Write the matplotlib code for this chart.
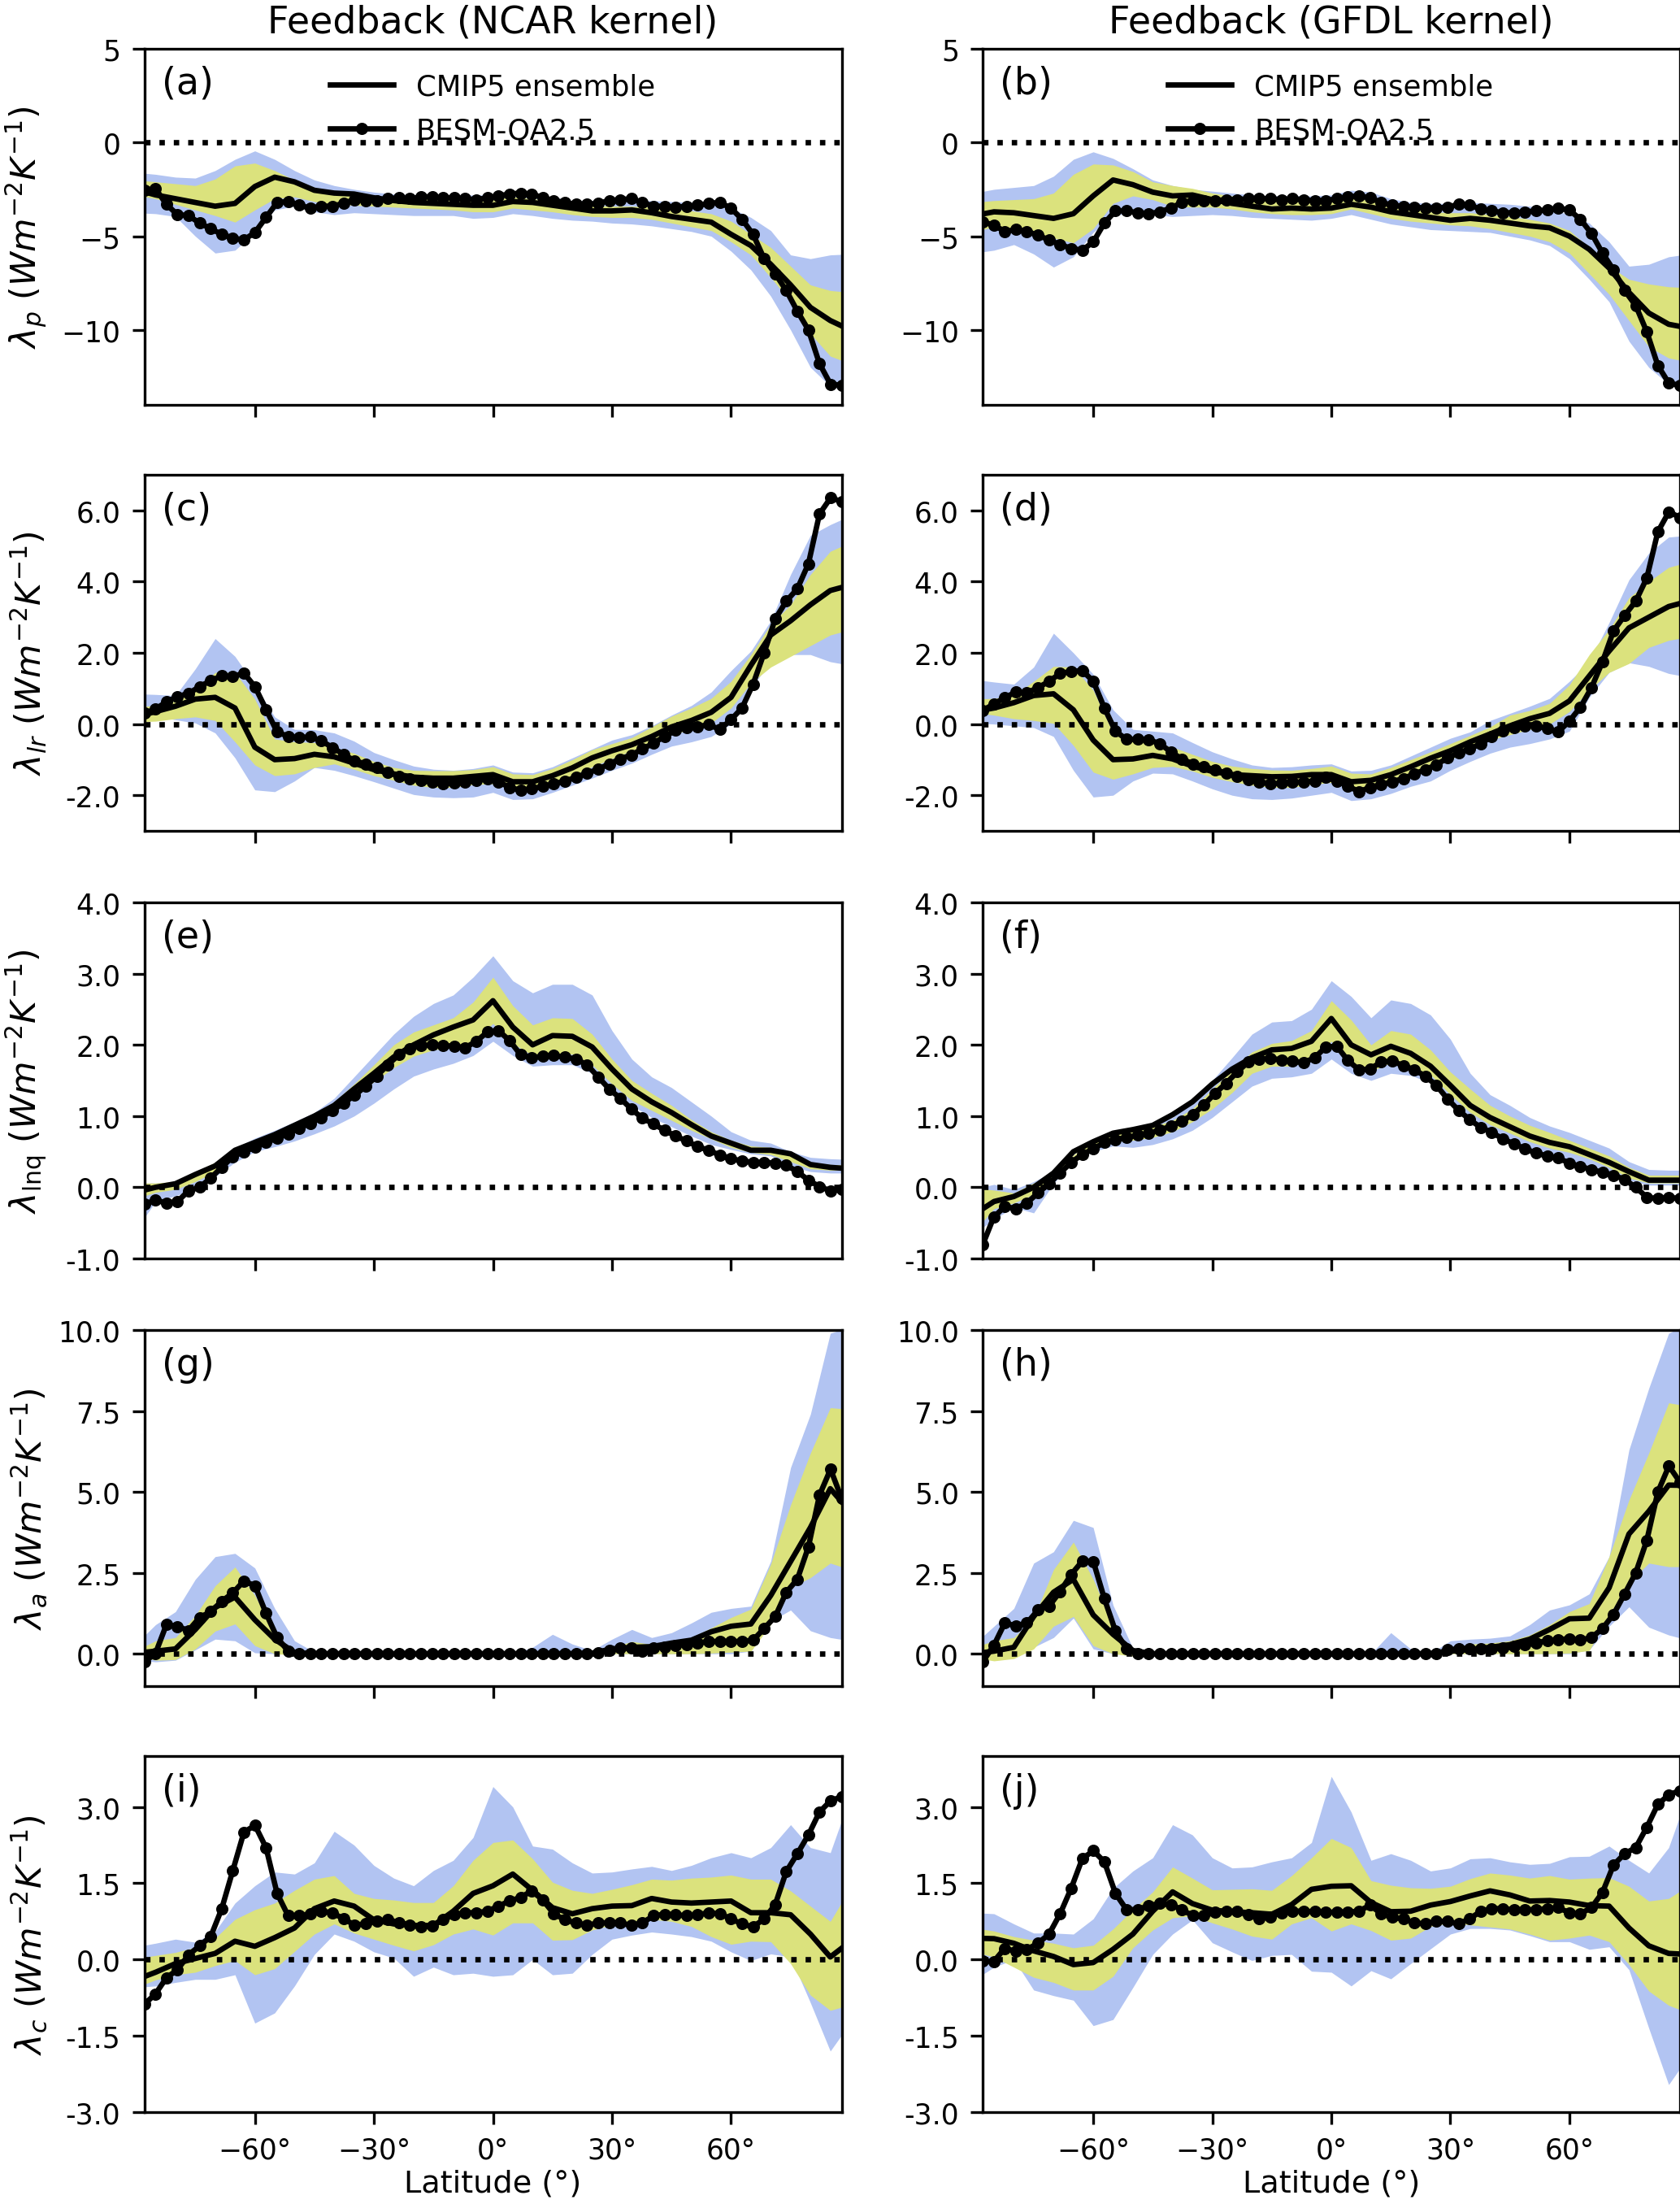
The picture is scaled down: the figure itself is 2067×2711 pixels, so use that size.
import numpy as np
import matplotlib
matplotlib.use('Agg')
import matplotlib.pyplot as plt
from matplotlib.ticker import FormatStrFormatter

# ---------------- latitude grids ----------------
lat_cmip = np.arange(-90, 91, 5)                 # CMIP5 ensemble grid (37)
lat_besm = np.linspace(-87.86, 87.86, 64)        # BESM-OA2.5 grid (64)

# ---------------- (a) Planck, NCAR ----------------
a_mean = [-2.5, -2.8, -3.0, -3.2, -3.4, -3.25, -2.35, -1.85, -2.1,
          -2.55, -2.7, -2.75, -2.95, -3.1, -3.2, -3.25, -3.3, -3.35,
          -3.35,
          -3.15, -3.2, -3.35, -3.5, -3.65, -3.65, -3.6, -3.75, -3.95,
          -4.1, -4.25, -4.9, -5.5, -6.5, -7.6, -8.8, -9.5, -10.0]
a_blue_hi = [-1.6, -1.7, -1.85, -1.9, -1.5, -0.9, -0.45, -0.9, -1.5,
             -2.0, -2.3, -2.5, -2.65, -2.75, -2.8, -2.8, -2.8, -2.8,
             -2.8,
             -2.65, -2.75, -2.9, -3.1, -3.1, -3.1, -3.1, -3.1, -3.15,
             -3.2, -3.3, -3.5, -4.0, -4.7, -6.0, -6.2, -6.0, -5.95]
a_blue_lo = [-3.75, -3.8, -3.95, -5.0, -5.9, -5.75, -4.8, -3.6, -3.4,
             -3.7, -3.85, -3.75, -3.8, -3.85, -3.9, -3.9, -3.9, -4.05,
             -4.0,
             -3.8, -3.9, -4.05, -4.15, -4.2, -4.3, -4.35, -4.45, -4.6,
             -4.75, -5.0, -5.8, -6.8, -8.2, -10.0, -12.0, -13.0, -13.3]
a_yel_hi = [-2.0, -2.1, -2.2, -2.3, -1.95, -1.25, -1.1, -1.5, -2.0,
            -2.4, -2.6, -2.7, -2.85, -2.95, -3.0, -3.0, -3.0, -3.05,
            -3.05,
            -2.9, -3.0, -3.1, -3.3, -3.35, -3.4, -3.4, -3.45, -3.55,
            -3.65, -3.8, -4.2, -4.9, -5.6, -6.6, -7.6, -7.9, -8.0]
a_yel_lo = [-2.8, -3.0, -3.3, -3.6, -3.9, -4.25, -3.6, -3.0, -2.9,
            -3.15, -3.3, -3.35, -3.4, -3.45, -3.5, -3.55, -3.6, -3.7,
            -3.7,
            -3.5, -3.6, -3.7, -3.85, -3.95, -4.0, -4.0, -4.1, -4.3,
            -4.5, -4.7, -5.3, -6.0, -7.2, -8.5, -10.2, -11.4, -11.8]
a_besm = [-2.55, -2.45, -3.3, -3.85, -3.9, -4.3, -4.6, -4.9,
          -5.1, -5.2, -4.8, -4.0, -3.2, -3.15, -3.35, -3.5,
          -3.4, -3.4, -3.25, -3.05, -3.1, -3.1, -3.0, -2.95,
          -3.0, -2.9, -2.9, -2.95, -2.95, -3.0, -3.05, -2.95,
          -2.85, -2.75, -2.7, -2.75, -2.95, -3.1, -3.2, -3.3,
          -3.3, -3.25, -3.1, -3.05, -3.0, -3.2, -3.4, -3.4,
          -3.45, -3.4, -3.35, -3.25, -3.2, -3.5, -4.1, -4.9,
          -6.2, -7.0, -7.9, -9.0, -10.0, -11.8, -12.9, -12.95]

# ---------------- (b) Planck, GFDL ----------------
b_mean = [-3.9, -3.7, -3.75, -3.9, -4.05, -3.8, -2.85, -2.0, -2.25,
          -2.65, -2.85, -2.8, -3.05, -3.25, -3.4, -3.55, -3.5, -3.55,
          -3.5,
          -3.3, -3.45, -3.7, -3.85, -4.0, -4.15, -4.05, -4.15, -4.3,
          -4.45, -4.55, -5.0, -5.7, -6.7, -8.0, -9.1, -9.7, -9.9]
b_blue_hi = [-2.7, -2.5, -2.4, -2.3, -1.8, -0.9, -0.5, -0.85, -1.4,
             -2.0, -2.3, -2.5, -2.6, -2.7, -2.8, -2.85, -2.85, -2.85,
             -2.8,
             -2.55, -2.65, -3.0, -3.2, -3.25, -3.25, -3.2, -3.25, -3.3,
             -3.4, -3.55, -3.85, -4.3, -5.3, -6.6, -6.5, -6.1, -5.95]
b_blue_lo = [-5.9, -5.75, -5.45, -5.95, -6.65, -6.1, -4.8, -3.9, -3.75,
             -3.85, -3.95, -3.9, -3.85, -3.9, -4.0, -4.05, -4.1, -4.15,
             -4.05,
             -3.85, -4.1, -4.35, -4.5, -4.65, -4.7, -4.75, -4.8, -5.0,
             -5.2, -5.5, -6.2, -7.3, -8.5, -10.6, -12.0, -12.9, -13.3]
b_yel_hi = [-3.2, -3.1, -3.05, -3.0, -2.7, -1.7, -1.15, -1.2, -1.55,
            -2.1, -2.3, -2.45, -2.7, -2.85, -3.0, -3.1, -3.15, -3.2,
            -3.15,
            -2.95, -3.1, -3.4, -3.55, -3.7, -3.75, -3.75, -3.85, -3.95,
            -4.1, -4.3, -4.7, -5.6, -6.6, -7.3, -7.55, -7.7, -7.75]
b_yel_lo = [-4.75, -4.5, -4.6, -4.8, -5.1, -5.35, -4.6, -3.25, -2.85,
            -3.05, -3.4, -3.45, -3.45, -3.55, -3.7, -3.8, -3.85, -3.85,
            -3.8,
            -3.55, -3.8, -4.05, -4.2, -4.3, -4.4, -4.45, -4.6, -4.8,
            -5.0, -5.3, -5.9, -7.0, -8.1, -9.5, -10.9, -11.5, -11.7]
b_besm = [-4.25, -4.4, -4.75, -4.65, -4.75, -4.95, -5.2, -5.45,
          -5.65, -5.75, -5.3, -4.3, -3.65, -3.65, -3.75, -3.8,
          -3.7, -3.5, -3.2, -3.1, -3.1, -3.1, -3.05, -3.05,
          -3.0, -3.0, -3.0, -3.05, -3.0, -3.05, -3.1, -3.1,
          -3.0, -2.9, -2.85, -2.95, -3.2, -3.35, -3.4, -3.45,
          -3.5, -3.5, -3.45, -3.3, -3.35, -3.55, -3.65, -3.75,
          -3.75, -3.7, -3.65, -3.6, -3.5, -3.6, -4.1, -4.85,
          -5.9, -6.8, -7.9, -8.7, -10.1, -11.9, -12.85, -12.95]

# ---------------- (c) lapse rate, NCAR ----------------
c_mean = [0.2, 0.35, 0.5, 0.7, 0.75, 0.45, -0.65, -1.0, -0.97,
          -0.85, -0.92, -1.1, -1.28, -1.4, -1.49, -1.52, -1.52, -1.47,
          -1.42,
          -1.62, -1.62, -1.45, -1.23, -0.95, -0.75, -0.58, -0.35, -0.08,
          0.1, 0.33, 0.75, 1.65, 2.5, 2.9, 3.35, 3.75, 3.9]
c_blue_hi = [0.85, 0.83, 0.8, 1.55, 2.4, 1.9, 1.1, 0.2, -0.15,
             -0.16, -0.25, -0.48, -0.8, -1.0, -1.18, -1.27, -1.3, -1.25,
             -1.15,
             -1.35, -1.37, -1.2, -0.95, -0.7, -0.45, -0.3, -0.05, 0.25,
             0.52, 0.9, 1.5, 2.05, 2.9, 4.2, 5.3, 5.6, 5.85]
c_blue_lo = [0.27, 0.22, 0.12, 0.03, -0.25, -0.95, -1.85, -1.9, -1.6,
             -1.22, -1.3, -1.45, -1.62, -1.8, -1.98, -2.05, -2.07, -2.05,
             -1.92,
             -2.12, -2.1, -1.92, -1.72, -1.52, -1.3, -1.1, -0.85, -0.62,
             -0.5, -0.35, 0.0, 1.0, 1.75, 1.95, 1.95, 1.75, 1.65]
c_yel_hi = [0.48, 0.52, 0.65, 0.95, 1.45, 1.45, 0.7, -0.42, -0.5,
            -0.52, -0.65, -0.82, -1.05, -1.22, -1.3, -1.31, -1.31, -1.28,
            -1.2,
            -1.4, -1.42, -1.25, -1.0, -0.72, -0.55, -0.38, -0.08, 0.22,
            0.45, 0.72, 1.2, 1.95, 2.8, 3.35, 4.2, 4.85, 5.1]
c_yel_lo = [0.06, 0.08, 0.15, 0.2, 0.1, -0.5, -1.15, -1.45, -1.4,
            -1.22, -1.12, -1.27, -1.45, -1.58, -1.72, -1.78, -1.78, -1.7,
            -1.68,
            -1.82, -1.78, -1.65, -1.45, -1.2, -0.97, -0.75, -0.55, -0.3,
            -0.15, 0.03, 0.45, 1.15, 1.6, 1.9, 2.2, 2.5, 2.65]
c_besm = [0.3, 0.42, 0.62, 0.77, 0.86, 1.05, 1.22, 1.35,
          1.33, 1.43, 1.05, 0.41, -0.22, -0.35, -0.38, -0.36,
          -0.47, -0.66, -0.85, -1.03, -1.12, -1.22, -1.35, -1.47,
          -1.54, -1.58, -1.63, -1.67, -1.66, -1.64, -1.58, -1.53,
          -1.62, -1.78, -1.86, -1.82, -1.75, -1.68, -1.6, -1.5,
          -1.38, -1.27, -1.12, -0.98, -0.87, -0.7, -0.54, -0.35,
          -0.18, -0.1, -0.07, -0.02, -0.15, 0.12, 0.45, 1.12,
          2.0, 2.95, 3.45, 3.8, 4.5, 5.9, 6.35, 6.25]

# ---------------- (d) lapse rate, GFDL ----------------
d_mean = [0.35, 0.45, 0.6, 0.8, 0.85, 0.4, -0.45, -1.0, -0.98,
          -0.88, -0.98, -1.18, -1.33, -1.42, -1.45, -1.48, -1.47, -1.42,
          -1.42,
          -1.62, -1.58, -1.42, -1.2, -0.96, -0.75, -0.5, -0.28, -0.05,
          0.15, 0.3, 0.65, 1.35, 2.05, 2.7, 3.0, 3.3, 3.45]
d_blue_hi = [1.25, 1.18, 1.12, 1.6, 2.55, 2.0, 1.4, 0.4, -0.15,
             -0.2, -0.25, -0.52, -0.78, -0.98, -1.15, -1.22, -1.2, -1.15,
             -1.12,
             -1.32, -1.3, -1.15, -0.9, -0.65, -0.4, -0.22, 0.1, 0.3,
             0.5, 0.72, 1.2, 1.75, 2.85, 4.05, 4.8, 5.25, 5.3]
d_blue_lo = [0.03, 0.0, -0.05, -0.1, -0.35, -1.3, -2.05, -2.0, -1.6,
             -1.38, -1.4, -1.6, -1.82, -2.0, -2.1, -2.12, -2.08, -2.0,
             -1.92,
             -2.15, -2.1, -1.95, -1.75, -1.6, -1.3, -1.05, -0.82, -0.65,
             -0.55, -0.42, -0.2, 0.75, 1.45, 1.72, 1.62, 1.42, 1.32]
d_yel_hi = [0.7, 0.72, 0.8, 1.2, 1.62, 1.6, 0.95, -0.25, -0.45,
            -0.52, -0.65, -0.85, -1.05, -1.18, -1.25, -1.29, -1.3, -1.25,
            -1.18,
            -1.38, -1.4, -1.22, -1.0, -0.78, -0.55, -0.32, -0.08, 0.25,
            0.38, 0.58, 1.1, 1.95, 2.65, 3.55, 4.0, 4.4, 4.55]
d_yel_lo = [0.32, 0.25, 0.15, 0.1, 0.02, -0.6, -1.35, -1.55, -1.4,
            -1.22, -1.19, -1.32, -1.5, -1.62, -1.72, -1.78, -1.78, -1.7,
            -1.64,
            -1.8, -1.78, -1.62, -1.45, -1.25, -1.0, -0.72, -0.45, -0.3,
            -0.15, 0.0, 0.35, 0.95, 1.45, 1.7, 2.15, 2.35, 2.45]
d_besm = [0.38, 0.56, 0.74, 0.9, 0.88, 1.02, 1.2, 1.42,
          1.48, 1.5, 1.2, 0.45, -0.2, -0.43, -0.43, -0.44,
          -0.55, -0.78, -0.98, -1.12, -1.2, -1.28, -1.38, -1.47,
          -1.56, -1.62, -1.68, -1.66, -1.64, -1.62, -1.6, -1.5,
          -1.6, -1.74, -1.9, -1.78, -1.7, -1.62, -1.53, -1.4,
          -1.28, -1.14, -0.95, -0.81, -0.7, -0.55, -0.35, -0.2,
          -0.1, -0.06, -0.05, -0.12, -0.22, 0.08, 0.47, 1.02,
          1.75, 2.62, 3.05, 3.45, 4.1, 5.4, 5.96, 5.8]

# ---------------- (e) water vapour, NCAR ----------------
e_mean = [-0.07, 0.0, 0.05, 0.18, 0.3, 0.52, 0.63, 0.74, 0.87,
          1.0, 1.15, 1.38, 1.6, 1.83, 2.0, 2.14, 2.25, 2.35,
          2.62,
          2.25, 2.0, 2.13, 2.12, 1.97, 1.66, 1.38, 1.2, 1.05,
          0.88, 0.72, 0.62, 0.52, 0.52, 0.47, 0.32, 0.28, 0.26]
e_blue_hi = [0.06, 0.06, 0.06, 0.2, 0.35, 0.55, 0.69, 0.8, 0.92,
             1.05, 1.25, 1.55, 1.85, 2.15, 2.4, 2.58, 2.7, 2.95,
             3.25,
             2.9, 2.73, 2.85, 2.85, 2.7, 2.2, 1.8, 1.55, 1.4,
             1.2, 1.0, 0.78, 0.66, 0.62, 0.5, 0.42, 0.4, 0.39]
e_blue_lo = [-0.6, -0.2, -0.12, -0.02, 0.15, 0.35, 0.5, 0.57, 0.65,
             0.75, 0.86, 1.0, 1.18, 1.38, 1.56, 1.66, 1.74, 1.85,
             2.05,
             1.85, 1.7, 1.72, 1.72, 1.6, 1.38, 1.15, 0.98, 0.85,
             0.72, 0.6, 0.53, 0.47, 0.44, 0.3, 0.22, 0.2, 0.2]
e_yel_hi = [0.06, 0.06, 0.08, 0.22, 0.35, 0.55, 0.64, 0.76, 0.9,
            1.03, 1.2, 1.45, 1.72, 2.0, 2.18, 2.28, 2.38, 2.6,
            2.95,
            2.55, 2.28, 2.38, 2.37, 2.15, 1.8, 1.5, 1.32, 1.15,
            0.95, 0.78, 0.66, 0.58, 0.56, 0.45, 0.34, 0.32, 0.31]
e_yel_lo = [-0.16, -0.07, -0.03, 0.08, 0.22, 0.42, 0.6, 0.7, 0.83,
            0.95, 1.08, 1.28, 1.48, 1.68, 1.84, 1.93, 1.96, 2.05,
            2.3,
            2.02, 1.85, 1.87, 1.87, 1.72, 1.45, 1.22, 1.08, 0.94,
            0.8, 0.68, 0.56, 0.49, 0.46, 0.36, 0.26, 0.24, 0.24]
e_besm = [-0.24, -0.18, -0.22, -0.2, -0.05, 0.0, 0.13, 0.28,
          0.43, 0.5, 0.56, 0.63, 0.69, 0.75, 0.83, 0.9,
          0.98, 1.08, 1.18, 1.29, 1.42, 1.56, 1.72, 1.86,
          1.95, 1.99, 2.0, 1.99, 1.98, 1.96, 2.05, 2.18,
          2.2, 2.06, 1.86, 1.82, 1.84, 1.85, 1.83, 1.8,
          1.72, 1.55, 1.38, 1.25, 1.1, 0.97, 0.89, 0.8,
          0.72, 0.65, 0.57, 0.52, 0.45, 0.4, 0.37, 0.35,
          0.35, 0.34, 0.31, 0.22, 0.1, 0.01, -0.05, -0.03]

# ---------------- (f) water vapour, GFDL ----------------
f_mean = [-0.38, -0.2, -0.13, 0.0, 0.2, 0.5, 0.64, 0.76, 0.81,
          0.87, 1.02, 1.2, 1.45, 1.66, 1.82, 1.93, 1.95, 2.05,
          2.37,
          2.0, 1.86, 1.98, 1.88, 1.7, 1.43, 1.15, 0.98, 0.85,
          0.72, 0.63, 0.57, 0.46, 0.35, 0.22, 0.1, 0.1, 0.1]
f_blue_hi = [-0.02, 0.04, -0.03, 0.08, 0.22, 0.42, 0.62, 0.78, 0.83,
             0.88, 0.98, 1.2, 1.5, 1.82, 2.15, 2.32, 2.34, 2.5,
             2.9,
             2.68, 2.38, 2.63, 2.58, 2.42, 2.08, 1.6, 1.3, 1.15,
             0.98, 0.86, 0.77, 0.66, 0.55, 0.36, 0.25, 0.24, 0.24]
f_blue_lo = [-0.65, -0.45, -0.28, -0.36, 0.05, 0.38, 0.5, 0.58, 0.56,
             0.6, 0.68, 0.8, 0.98, 1.2, 1.42, 1.53, 1.55, 1.6,
             1.8,
             1.6, 1.5, 1.6, 1.57, 1.47, 1.22, 0.98, 0.8, 0.65,
             0.55, 0.45, 0.37, 0.3, 0.2, 0.1, 0.03, 0.03, 0.03]
f_yel_hi = [-0.01, -0.04, -0.08, 0.06, 0.18, 0.45, 0.65, 0.77, 0.8,
            0.85, 0.94, 1.1, 1.38, 1.65, 1.9, 2.02, 2.06, 2.2,
            2.62,
            2.35, 2.0, 2.2, 2.15, 1.93, 1.62, 1.38, 1.15, 1.0,
            0.87, 0.77, 0.66, 0.55, 0.44, 0.28, 0.17, 0.17, 0.17]
f_yel_lo = [-0.62, -0.3, -0.22, -0.1, 0.15, 0.43, 0.57, 0.64, 0.66,
            0.7, 0.78, 0.92, 1.1, 1.33, 1.6, 1.7, 1.7, 1.8,
            2.05,
            1.75, 1.63, 1.75, 1.68, 1.58, 1.3, 1.05, 0.88, 0.76,
            0.64, 0.55, 0.49, 0.4, 0.28, 0.13, 0.06, 0.06, 0.06]
f_besm = [-0.81, -0.42, -0.27, -0.3, -0.22, -0.08, 0.05, 0.2,
          0.35, 0.46, 0.54, 0.63, 0.67, 0.7, 0.73, 0.76,
          0.8, 0.86, 0.93, 1.02, 1.16, 1.32, 1.46, 1.62,
          1.76, 1.8, 1.81, 1.79, 1.77, 1.75, 1.82, 1.97,
          1.98, 1.78, 1.65, 1.66, 1.76, 1.77, 1.71, 1.65,
          1.56, 1.43, 1.24, 1.08, 0.95, 0.84, 0.77, 0.68,
          0.61, 0.54, 0.48, 0.44, 0.41, 0.34, 0.29, 0.25,
          0.21, 0.17, 0.11, 0.0, -0.14, -0.16, -0.14, -0.16]

# ---------------- (g) albedo, NCAR ----------------
g_mean = [0.02, 0.08, 0.15, 0.75, 1.43, 1.75, 1.05, 0.45, 0.04,
          0.0, 0.0, 0.0, 0.0, 0.0, 0.0, 0.0, 0.0, 0.0,
          0.0,
          0.0, 0.0, 0.0, 0.0, 0.02, 0.15, 0.2, 0.22, 0.33,
          0.42, 0.68, 0.85, 0.92, 1.8, 2.85, 3.9, 5.1, 4.4]
g_blue_hi = [0.3, 0.9, 1.3, 2.3, 3.0, 3.1, 2.65, 1.4, 0.4,
             0.05, 0.0, 0.0, 0.0, 0.0, 0.0, 0.0, 0.0, 0.0,
             0.0,
             0.0, 0.2, 0.6, 0.3, 0.1, 0.45, 0.75, 0.5, 0.65,
             0.95, 1.28, 1.4, 1.47, 2.86, 5.75, 7.4, 9.9, 10.1]
g_blue_lo = [-0.2, -0.25, -0.2, 0.12, 0.45, 0.4, 0.03, 0.0, 0.0,
             0.0, 0.0, 0.0, 0.0, 0.0, 0.0, 0.0, 0.0, 0.0,
             0.0,
             0.0, 0.0, 0.0, 0.0, 0.0, 0.0, 0.0, 0.0, 0.0,
             0.0, 0.0, 0.0, 0.08, 1.0, 1.35, 0.71, 0.5, 0.4]
g_yel_hi = [0.1, 0.4, 0.5, 1.18, 2.1, 2.68, 1.8, 0.65, 0.05,
            0.0, 0.0, 0.0, 0.0, 0.0, 0.0, 0.0, 0.0, 0.0,
            0.0,
            0.0, 0.0, 0.0, 0.0, 0.02, 0.2, 0.38, 0.29, 0.37,
            0.5, 0.8, 1.12, 1.38, 2.77, 4.6, 6.2, 7.6, 7.55]
g_yel_lo = [-0.05, -0.2, -0.18, 0.15, 0.7, 0.92, 0.25, 0.0, -0.04,
            0.0, 0.0, 0.0, 0.0, 0.0, 0.0, 0.0, 0.0, 0.0,
            0.0,
            0.0, 0.0, 0.0, 0.0, 0.0, 0.0, 0.0, 0.0, 0.0,
            0.0, 0.02, 0.05, 0.08, 0.9, 2.05, 2.35, 2.8, 2.6]
g_besm = [-0.25, 0.0, 0.9, 0.84, 0.72, 1.12, 1.3, 1.62,
          1.88, 2.25, 2.1, 1.25, 0.5, 0.08, 0.0, 0.0,
          0.0, 0.0, 0.0, 0.0, 0.0, 0.0, 0.0, 0.0,
          0.0, 0.0, 0.0, 0.0, 0.0, 0.0, 0.0, 0.0,
          0.0, 0.0, 0.0, 0.0, 0.0, 0.0, 0.0, 0.0,
          0.0, 0.02, 0.1, 0.17, 0.17, 0.08, 0.17, 0.21,
          0.25, 0.29, 0.34, 0.38, 0.38, 0.38, 0.38, 0.42,
          0.78, 1.15, 1.9, 2.3, 3.3, 4.9, 5.7, 4.8]

# ---------------- (h) albedo, GFDL ----------------
h_mean = [0.0, 0.08, 0.2, 1.15, 1.9, 2.3, 1.2, 0.6, 0.1,
          0.0, 0.0, 0.0, 0.0, 0.0, 0.0, 0.0, 0.0, 0.0,
          0.0,
          0.0, 0.0, 0.0, 0.0, 0.0, 0.08, 0.13, 0.2, 0.28,
          0.45, 0.75, 1.08, 1.1, 2.04, 3.7, 4.4, 5.21, 5.2]
h_blue_hi = [0.3, 0.85, 1.4, 2.8, 3.15, 4.12, 3.9, 1.5, 0.17,
             0.0, 0.0, 0.0, 0.0, 0.0, 0.0, 0.0, 0.0, 0.0,
             0.0,
             0.0, 0.0, 0.65, 0.15, 0.02, 0.4, 0.45, 0.48, 0.55,
             0.9, 1.35, 1.51, 1.85, 3.0, 6.3, 8.2, 9.9, 10.2]
h_blue_lo = [-0.1, -0.05, 0.02, 0.2, 0.5, 1.1, 0.15, 0.0, 0.0,
             0.0, 0.0, 0.0, 0.0, 0.0, 0.0, 0.0, 0.0, 0.0,
             0.0,
             0.0, 0.0, 0.0, 0.0, 0.0, 0.0, 0.0, 0.0, 0.0,
             0.0, 0.0, 0.0, 0.12, 0.85, 1.45, 0.82, 0.58, 0.42]
h_yel_hi = [0.2, 0.4, 0.5, 1.1, 2.6, 3.45, 2.3, 0.85, 0.05,
            0.0, 0.0, 0.0, 0.0, 0.0, 0.0, 0.0, 0.0, 0.0,
            0.0,
            0.0, 0.0, 0.0, 0.0, 0.0, 0.15, 0.3, 0.33, 0.4,
            0.58, 0.9, 1.3, 1.55, 3.0, 4.75, 6.2, 7.75, 7.65]
h_yel_lo = [-0.12, -0.22, -0.15, 0.15, 0.85, 1.15, 0.25, 0.0, -0.07,
            0.0, 0.0, 0.0, 0.0, 0.0, 0.0, 0.0, 0.0, 0.0,
            0.0,
            0.0, 0.0, 0.0, 0.0, 0.0, 0.0, 0.0, 0.0, 0.0,
            0.0, 0.0, 0.02, 0.1, 1.2, 2.2, 2.8, 2.69, 2.69]
h_besm = [-0.25, 0.25, 0.95, 0.86, 0.95, 1.35, 1.47, 1.92,
          2.45, 2.86, 2.85, 1.7, 0.7, 0.15, 0.0, 0.0,
          0.0, 0.0, 0.0, 0.0, 0.0, 0.0, 0.0, 0.0,
          0.0, 0.0, 0.0, 0.0, 0.0, 0.0, 0.0, 0.0,
          0.0, 0.0, 0.0, 0.0, 0.0, 0.0, 0.0, 0.0,
          0.0, 0.0, 0.12, 0.15, 0.15, 0.15, 0.15, 0.17,
          0.22, 0.27, 0.34, 0.4, 0.44, 0.46, 0.42, 0.5,
          0.78, 1.22, 1.85, 2.5, 3.5, 5.0, 5.8, 5.3]

# ---------------- (i) cloud, NCAR ----------------
i_mean = [-0.4, -0.25, -0.08, 0.02, 0.12, 0.36, 0.26, 0.43, 0.62,
          1.0, 1.15, 1.05, 0.78, 0.7, 0.67, 0.67, 0.95, 1.3,
          1.45,
          1.68, 1.36, 1.02, 0.9, 1.0, 1.05, 1.06, 1.2, 1.13,
          1.11, 1.13, 1.15, 0.92, 0.92, 0.88, 0.5, 0.05, 0.35]
i_blue_hi = [0.25, 0.32, 0.4, 0.34, 0.55, 1.11, 1.45, 1.72, 1.68,
             1.9, 2.52, 2.25, 1.85, 1.6, 1.45, 1.75, 1.95, 2.4,
             3.4,
             3.0, 2.23, 2.17, 1.9, 1.7, 1.72, 1.78, 1.83, 1.75,
             1.85, 2.0, 2.1, 2.0, 2.2, 2.65, 2.2, 2.1, 3.2]
i_blue_lo = [-0.55, -0.52, -0.45, -0.39, -0.39, -0.3, -1.25, -1.05, -0.52,
             0.1, 0.5, 0.36, 0.15, 0.03, -0.33, -0.15, -0.3, -0.27,
             -0.33,
             -0.3, 0.0, -0.3, -0.27, 0.1, 0.4, 0.48, 0.54, 0.5,
             0.45, 0.36, 0.15, -0.02, 0.11, 0.05, -0.85, -1.8, -1.25]
i_yel_hi = [0.02, 0.08, 0.14, 0.24, 0.42, 0.79, 0.98, 1.11, 1.36,
            1.58, 1.65, 1.3, 1.2, 1.17, 1.12, 1.12, 1.45, 1.95,
            2.3,
            2.35, 1.98, 1.52, 1.36, 1.3, 1.38, 1.47, 1.58, 1.56,
            1.6, 1.62, 1.66, 1.58, 1.58, 1.35, 1.05, 0.75, 1.4]
i_yel_lo = [-0.55, -0.4, -0.3, -0.25, -0.12, -0.02, -0.3, -0.18, 0.16,
            0.5, 0.7, 0.52, 0.4, 0.28, 0.17, 0.29, 0.5, 0.6,
            0.48,
            0.72, 0.72, 0.38, 0.39, 0.58, 0.68, 0.75, 0.79, 0.75,
            0.65, 0.45, 0.3, 0.36, 0.35, -0.08, -0.7, -1.0, -0.89]
i_besm = [-0.88, -0.68, -0.36, -0.2, 0.09, 0.27, 0.45, 1.0,
          1.75, 2.5, 2.64, 2.2, 1.3, 0.86, 0.86, 0.9,
          0.95, 0.92, 0.8, 0.68, 0.7, 0.76, 0.78, 0.73,
          0.68, 0.64, 0.66, 0.78, 0.88, 0.92, 0.92, 0.95,
          1.05, 1.15, 1.22, 1.35, 1.17, 0.9, 0.78, 0.72,
          0.67, 0.72, 0.72, 0.72, 0.67, 0.72, 0.86, 0.89,
          0.88, 0.86, 0.88, 0.92, 0.9, 0.8, 0.7, 0.64,
          0.8, 1.08, 1.73, 2.08, 2.45, 2.9, 3.12, 3.2]

# ---------------- (j) cloud, GFDL ----------------
j_mean = [0.42, 0.41, 0.32, 0.17, 0.06, -0.1, -0.06, 0.2, 0.5,
          0.95, 1.33, 1.1, 0.97, 0.94, 0.92, 0.89, 1.08, 1.38,
          1.44,
          1.45, 1.12, 0.94, 0.95, 1.07, 1.14, 1.25, 1.35, 1.27,
          1.15, 1.16, 1.13, 1.06, 1.05, 0.62, 0.27, 0.12, 0.1]
j_blue_hi = [0.92, 0.9, 0.7, 0.52, 0.52, 0.5, 0.8, 1.4, 1.74,
             2.0, 2.65, 2.45, 2.0, 1.8, 1.82, 1.92, 2.0, 2.3,
             3.6,
             2.9, 1.95, 2.08, 1.95, 1.74, 1.8, 1.98, 2.0, 1.92,
             1.87, 1.89, 2.02, 2.03, 2.23, 1.95, 1.7, 2.2, 3.3]
j_blue_lo = [-0.4, -0.15, 0.0, -0.6, -0.71, -0.8, -1.3, -1.18, -0.55,
             0.1, 0.5, 0.78, 0.33, 0.15, -0.02, 0.08, 0.1, -0.23,
             -0.25,
             -0.52, -0.22, -0.38, -0.08, 0.21, 0.5, 0.61, 0.61, 0.58,
             0.47, 0.35, 0.35, 0.2, 0.25, -0.2, -1.35, -2.46, -1.9]
j_yel_hi = [0.62, 0.56, 0.45, 0.38, 0.32, 0.23, 0.28, 0.6, 0.98,
            1.33, 1.82, 1.6, 1.37, 1.38, 1.39, 1.36, 1.65, 2.0,
            2.38,
            2.2, 1.55, 1.46, 1.41, 1.4, 1.44, 1.59, 1.7, 1.66,
            1.6, 1.65, 1.58, 1.6, 1.61, 1.44, 1.15, 1.2, 1.45]
j_yel_lo = [0.15, 0.05, -0.15, -0.35, -0.45, -0.6, -0.6, -0.33, 0.23,
            0.58, 0.82, 0.86, 0.72, 0.6, 0.46, 0.4, 0.7, 0.82,
            0.56,
            0.7, 0.57, 0.38, 0.42, 0.65, 0.72, 0.68, 0.64, 0.6,
            0.5, 0.38, 0.42, 0.48, 0.35, -0.1, -0.62, -0.9, -1.05]
j_besm = [-0.02, -0.04, 0.22, 0.16, 0.2, 0.32, 0.5, 0.9,
          1.4, 1.98, 2.14, 1.92, 1.3, 0.98, 0.98, 1.06,
          1.1, 1.08, 0.98, 0.86, 0.86, 0.93, 0.95, 0.94,
          0.88, 0.8, 0.84, 0.92, 0.95, 0.95, 0.94, 0.93,
          0.93, 0.93, 0.95, 1.07, 0.9, 0.83, 0.8, 0.72,
          0.7, 0.75, 0.75, 0.7, 0.8, 0.95, 1.0, 1.0,
          0.98, 0.98, 0.98, 1.0, 1.02, 0.92, 0.9, 1.02,
          1.32, 1.86, 2.08, 2.2, 2.6, 3.05, 3.24, 3.32]

# ---------------- labels / axes specs ----------------
panel_letters = ['(a)', '(b)', '(c)', '(d)', '(e)', '(f)', '(g)', '(h)', '(i)', '(j)']
col_titles = ['Feedback (NCAR kernel)', 'Feedback (GFDL kernel)']
row_ylabels = [r'$\lambda_p$ ($Wm^{-2}K^{-1}$)',
               r'$\lambda_{lr}$ ($Wm^{-2}K^{-1}$)',
               r'$\lambda_{\mathrm{lnq}}$ ($Wm^{-2}K^{-1}$)',
               r'$\lambda_a$ ($Wm^{-2}K^{-1}$)',
               r'$\lambda_c$ ($Wm^{-2}K^{-1}$)']
row_ylims = [(-14, 5), (-3, 7), (-1, 4), (-1, 10), (-3, 4)]
row_yticks = [[-10, -5, 0, 5], [-2, 0, 2, 4, 6], [-1, 0, 1, 2, 3, 4],
              [0, 2.5, 5, 7.5, 10], [-3, -1.5, 0, 1.5, 3]]
x_ticks = [-60, -30, 0, 30, 60]
x_ticklabels = ['\u221260\u00b0', '\u221230\u00b0', '0\u00b0', '30\u00b0', '60\u00b0']
legend_labels = ['CMIP5 ensemble', 'BESM-OA2.5']

panels = [
    (a_mean, a_blue_lo, a_blue_hi, a_yel_lo, a_yel_hi, a_besm),
    (b_mean, b_blue_lo, b_blue_hi, b_yel_lo, b_yel_hi, b_besm),
    (c_mean, c_blue_lo, c_blue_hi, c_yel_lo, c_yel_hi, c_besm),
    (d_mean, d_blue_lo, d_blue_hi, d_yel_lo, d_yel_hi, d_besm),
    (e_mean, e_blue_lo, e_blue_hi, e_yel_lo, e_yel_hi, e_besm),
    (f_mean, f_blue_lo, f_blue_hi, f_yel_lo, f_yel_hi, f_besm),
    (g_mean, g_blue_lo, g_blue_hi, g_yel_lo, g_yel_hi, g_besm),
    (h_mean, h_blue_lo, h_blue_hi, h_yel_lo, h_yel_hi, h_besm),
    (i_mean, i_blue_lo, i_blue_hi, i_yel_lo, i_yel_hi, i_besm),
    (j_mean, j_blue_lo, j_blue_hi, j_yel_lo, j_yel_hi, j_besm),
]

BLUE = '#b2c4f2'
YELLOW = '#dbe27d'

W, H = 2067, 2712
fig = plt.figure(figsize=(W / 300, H / 300), dpi=300)

col_left = [177.5, 1209]
ax_w = 858
row_top = [61, 585, 1111, 1637, 2161]
ax_h = 438

TICK_FS = 8.3
for idx, (mean, blo, bhi, ylo, yhi, besm) in enumerate(panels):
    r, c = divmod(idx, 2)
    ax = fig.add_axes([col_left[c] / W, 1 - (row_top[r] + ax_h) / H, ax_w / W, ax_h / H])
    ax.fill_between(lat_cmip, blo, bhi, color=BLUE, lw=0, zorder=1)
    ax.fill_between(lat_cmip, ylo, yhi, color=YELLOW, lw=0, zorder=2)
    ax.axhline(0, color='k', ls=':', lw=1.6, zorder=3)
    l1, = ax.plot(lat_cmip, mean, color='k', lw=1.6, zorder=4)
    l2, = ax.plot(lat_besm, besm, color='k', lw=1.6, marker='o', ms=2.6, zorder=5)
    ax.set_xlim(-87.86, 87.86)
    ax.set_ylim(*row_ylims[r])
    ax.set_yticks(row_yticks[r])
    if r > 0:
        ax.yaxis.set_major_formatter(FormatStrFormatter('%.1f'))
    ax.set_xticks(x_ticks)
    if r == 4:
        ax.set_xticklabels(x_ticklabels)
        ax.set_xlabel('Latitude (\u00b0)', fontsize=9.2, labelpad=1.5)
    else:
        ax.set_xticklabels([])
    ax.tick_params(labelsize=TICK_FS)
    ax.text(0.025, 0.955, panel_letters[idx], transform=ax.transAxes,
            fontsize=11, ha='left', va='top')
    if c == 0:
        ax.set_ylabel(row_ylabels[r], fontsize=10.2)
        ax.yaxis.set_label_coords(-0.137, 0.5)
    if r == 0:
        ax.set_title(col_titles[c], fontsize=11, pad=5)
        ax.legend([l1, l2], legend_labels, loc='upper left',
                  bbox_to_anchor=(0.266, 0.932), frameon=False, fontsize=8.5,
                  handlelength=2.2, handletextpad=0.8, labelspacing=0.55,
                  borderpad=0, borderaxespad=0)

fig.savefig('out.png', dpi=300)
